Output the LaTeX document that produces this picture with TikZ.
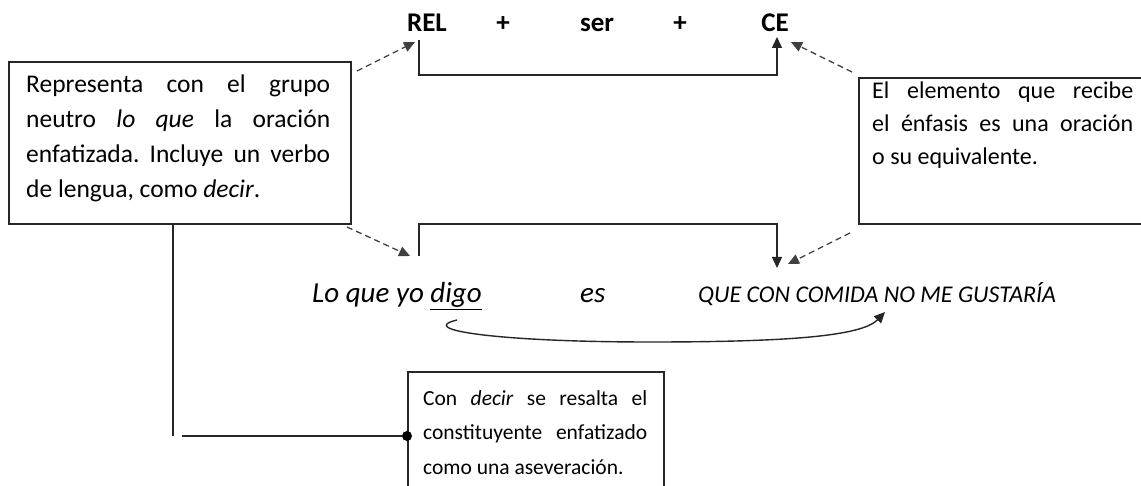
\documentclass[tikz,border=0pt]{standalone}
\usepackage{fontspec}
\setmainfont{Carlito}
\usetikzlibrary{arrows.meta}
\frenchspacing
\begin{document}
\begin{tikzpicture}[x=1pt,y=-1pt,
  conn/.style={line width=1.4pt, draw=black!85},
  tipped/.style={-{Triangle[length=11pt,width=10pt]}},
  dashline/.style={line width=1.3pt, dash pattern=on 6pt off 4pt, draw=black!75, -{Triangle[length=11pt,width=10pt]}},
  boxstyle/.style={draw=black!85, line width=1.6pt, rectangle, inner sep=0pt, anchor=north west},
  boxtext/.style={anchor=base west, align=justify, inner sep=0pt},
  toplabel/.style={anchor=base, inner sep=0pt, font=\fontsize{27pt}{30pt}\selectfont\bfseries},
  ]
\useasboundingbox (0,0) rectangle (1141,486);
\clip (0,0) rectangle (1141,486);
\fill[white] (0,0) rectangle (1141,486);

% top formula
\node[toplabel] (rel) at (427,32) {REL};
\node[toplabel] (plus1) at (503,32) {+};
\node[toplabel] (ser) at (597,32) {ser};
\node[toplabel] (plus2) at (680,32) {+};
\node[toplabel] (ce) at (775,32) {CE};

% boxes
\node[boxstyle, minimum width=342pt, minimum height=162pt] (lbox) at (8,61) {};
\node[boxstyle, minimum width=300pt, minimum height=146pt] (rbox) at (858,77) {};
\node[boxstyle, minimum width=256pt, minimum height=140pt] (bbox) at (407,371) {};

\node[boxtext, text width=304pt, font=\fontsize{25.5pt}{35pt}\selectfont] (ltext) at (26,93)
 {\hyphenpenalty=10000 Representa con el grupo\linebreak neutro \textit{lo que} la oración\linebreak enfatizada. Incluye un verbo\linebreak de lengua, como \textit{decir}.};
\node[boxtext, text width=261pt, font=\fontsize{24pt}{33pt}\selectfont] (rtext) at (872,99)
 {\hyphenpenalty=10000 El elemento que recibe\linebreak el énfasis es una oración\linebreak o su equivalente.};
\node[boxtext, text width=224pt, font=\fontsize{21.5pt}{35pt}\selectfont] (btext) at (423,405)
 {\hyphenpenalty=10000 Con \textit{decir} se resalta el\linebreak constituyente enfatizado\linebreak como una aseveración.};

% sentence
\node[anchor=base west, inner sep=0pt, font=\fontsize{29pt}{32pt}\selectfont\itshape] (lo) at (312,303) {Lo que yo \underline{digo}};
\node[anchor=base west, inner sep=0pt, font=\fontsize{29pt}{32pt}\selectfont\itshape] (es) at (580,303) {es};
\node[anchor=base west, inner sep=0pt, font=\fontsize{24pt}{28pt}\selectfont\itshape] (que) at (698,303) {QUE CON COMIDA NO ME GUSTARÍA};

% top bracket
\coordinate (ta) at (419,40);
\coordinate (tb) at (777,75);
\coordinate (tc) at (777,37);
\draw[conn, tipped] (ta) |- (tb) -- (tc);

% lower bracket
\coordinate (la) at (419,256);
\coordinate (lb) at (777,224);
\coordinate (lc) at (777,268);
\draw[conn, tipped] (la) |- (lb) -- (lc);

% dashed arrows
\coordinate (d1s) at (357,71);   \coordinate (d1e) at (415,42);
\coordinate (d2s) at (347,227);  \coordinate (d2e) at (410,256);
\coordinate (d3s) at (852,72);   \coordinate (d3e) at (791,42);
\coordinate (d4s) at (850,233);  \coordinate (d4e) at (788,264);
\draw[dashline] (d1s) -- (d1e);
\draw[dashline] (d2s) -- (d2e);
\draw[dashline] (d3s) -- (d3e);
\draw[dashline] (d4s) -- (d4e);

% curved arrow
\coordinate (c1) at (457,320);
\coordinate (c2) at (650,342);
\coordinate (c3) at (885,312);
\draw[conn, tipped] (c1) .. controls (415,330) and (500,342) .. (c2) .. controls (790,342) and (862,336) .. (c3);

% connector from left box to bottom box
\node[circle, fill=black, inner sep=0pt, minimum size=10pt] (dot) at (407,436) {};
\coordinate (v1) at (173,223);
\coordinate (v2) at (173,436);
\coordinate (h1) at (182,436);
\draw[conn] (v1) -- (v2);
\draw[conn] (h1) -- (dot);
\end{tikzpicture}
\end{document}
